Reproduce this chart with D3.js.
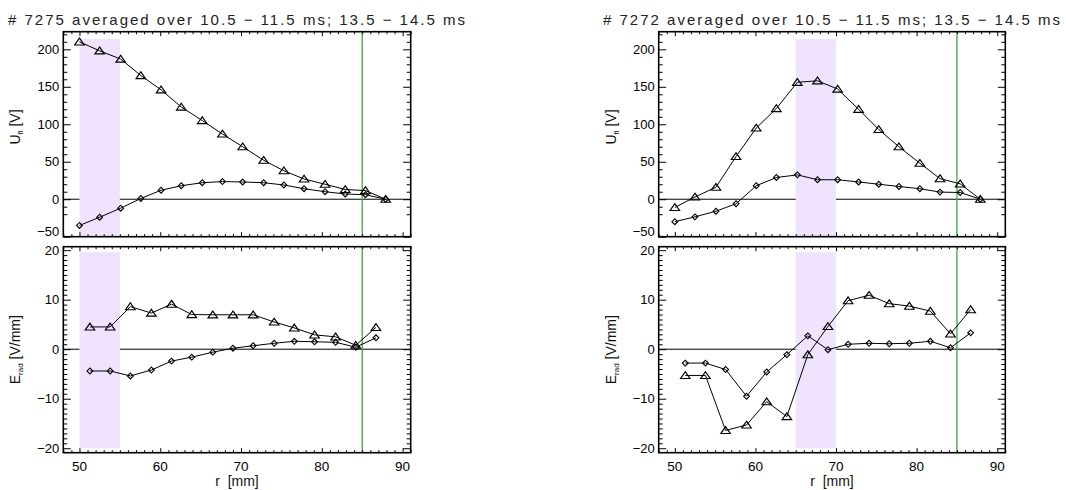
<!DOCTYPE html>
<html>
<head>
<meta charset="utf-8">
<script src="https://d3js.org/d3.v7.min.js"></script>
<style>
  body { margin: 0; background: #fff; }
  svg { display: block; }
  text { font-family: "Liberation Sans", Arial, sans-serif; }
</style>
</head>
<body>
<div id="chart"></div>
<script>
// ---- data ----
const shots = ["7275", "7272"];
const titleText = " averaged over 10.5 \u2212 11.5 ms; 13.5 \u2212 14.5 ms";

// probe positions (top panels) and midpoints (bottom panels), mm
const rU = [50.0, 52.5, 55.1, 57.6, 60.1, 62.6, 65.2, 67.7, 70.2, 72.8, 75.3, 77.8, 80.4, 82.9, 85.4, 87.9];
const rE = [51.3, 53.8, 56.3, 58.9, 61.4, 63.9, 66.5, 69.0, 71.5, 74.1, 76.6, 79.1, 81.7, 84.2, 86.7];

// shot 7275
const uTri7275 = [210, 198, 187, 165, 146, 123, 105, 87, 70, 52, 38, 27, 20, 13, 11.5, 0];
const uDia7275 = [-35, -24, -12, 1, 12, 18, 22, 23.5, 23, 22, 19, 14, 10, 7, 6, 0];
const eTri7275 = [4.5, 4.5, 8.6, 7.3, 9.1, 7.0, 6.95, 6.95, 6.95, 5.5, 4.3, 2.9, 2.5, 0.8, 4.4];
const eDia7275 = [-4.4, -4.4, -5.4, -4.2, -2.4, -1.6, -0.6, 0.2, 0.7, 1.2, 1.6, 1.5, 1.4, 0.4, 2.3];

// shot 7272
const uTri7272 = [-11, 3, 16, 57, 95, 121, 156, 158, 147, 120, 93, 70, 48, 27.5, 20.5, 0];
const uDia7272 = [-30, -23.5, -16, -6, 18, 29, 32.5, 26, 26, 23, 20, 17, 14, 9.5, 9, 0];
const eTri7272 = [-5.3, -5.3, -16.4, -15.3, -10.6, -13.6, -1.1, 4.6, 9.8, 10.9, 9.2, 8.7, 7.7, 3.1, 8.0];
const eDia7272 = [-2.8, -2.8, -4.1, -9.5, -4.6, -1.1, 2.7, -0.1, 1.0, 1.2, 1.1, 1.2, 1.6, 0.3, 3.3];

// shaded bands [r0, r1] and limiter line
const bands = [[50, 55], [65, 70]];
const limiterR = 85;

const xTicks = [50, 60, 70, 80, 90];
const uTicks = [-50, 0, 50, 100, 150, 200];
const eTicks = [-20, -10, 0, 10, 20];

// ---- layout ----
const width = 1066, height = 490;
const panelsX = [[63.3, 410.7], [658.7, 1005.3]];
const topY = [31.7, 236.7];
const botY = [246.7, 452.7];

const svg = d3.select("#chart").append("svg")
  .attr("width", width).attr("height", height);

const fmt = d => d < 0 ? "\u2212" + Math.abs(d) : String(d);

function drawPanel(x0, x1, y0, y1, yDomain, yTicks, yMinorStep, band, series, showX) {
  const x = d3.scaleLinear().domain([48, 91]).range([x0, x1]);
  const y = d3.scaleLinear().domain(yDomain).range([y1, y0]);
  const g = svg.append("g");

  // zero line (drawn under the band, like the original)
  g.append("line")
    .attr("x1", x0).attr("x2", x1)
    .attr("y1", y(0)).attr("y2", y(0))
    .attr("stroke", "#000").attr("stroke-width", 1);

  // shaded band
  const bandTop = yDomain[1] > 100 ? 214 : 19.6;
  const bandBot = yDomain[1] > 100 ? -50 : -20;
  g.append("rect")
    .attr("x", x(band[0])).attr("width", x(band[1]) - x(band[0]))
    .attr("y", y(bandTop)).attr("height", y(bandBot) - y(bandTop))
    .attr("fill", "#efe3fd");

  // green vertical line
  g.append("line")
    .attr("x1", x(limiterR)).attr("x2", x(limiterR))
    .attr("y1", y0).attr("y2", y1)
    .attr("stroke", "#3aaa3a").attr("stroke-width", 1.3);

  // data
  const line = d3.line().x(d => x(d[0])).y(d => y(d[1]));
  series.forEach(s => {
    const pts = s.r.map((r, i) => [r, s.v[i]]);
    g.append("path").datum(pts)
      .attr("d", line)
      .attr("fill", "none").attr("stroke", "#000").attr("stroke-width", 1);
    const tri = s.type === "tri";
    g.selectAll(null).data(pts).join("path")
      .attr("transform", d => tri
        ? `translate(${x(d[0])},${y(d[1]) + 0.8}) scale(1.15,0.95)`
        : `translate(${x(d[0])},${y(d[1])}) rotate(45)`)
      .attr("d", d3.symbol(tri ? d3.symbolTriangle : d3.symbolSquare, tri ? 30 : 17))
      .attr("fill", "none").attr("stroke", "#000").attr("stroke-width", 1.1);
  });

  // ticks on all four sides (inward)
  const pw = x1 - x0, ph = y1 - y0;
  const xMaj = 4.5, xMin = 2.5, yMaj = 7.5, yMin = 4;
  const xMinor = d3.range(48, 91.01, 1).filter(v => !xTicks.includes(v));
  const yMinor = d3.range(yDomain[0] < -20.5 ? -20 : -50, yDomain[1] + 0.01, yMinorStep)
    .filter(v => v >= yDomain[0] && v <= yDomain[1] && !yTicks.includes(v));

  const ax = (axis, tr) => g.append("g").attr("transform", tr).call(axis)
    .call(a => a.select(".domain").remove())
    .call(a => a.selectAll("line").attr("stroke", "#000").attr("stroke-width", 1));

  ax(d3.axisBottom(x).tickValues(xTicks).tickSize(-xMaj).tickFormat(""), `translate(0,${y1})`);
  ax(d3.axisBottom(x).tickValues(xMinor).tickSize(-xMin).tickFormat(""), `translate(0,${y1})`);
  ax(d3.axisTop(x).tickValues(xTicks).tickSize(-xMaj).tickFormat(""), `translate(0,${y0})`);
  ax(d3.axisTop(x).tickValues(xMinor).tickSize(-xMin).tickFormat(""), `translate(0,${y0})`);
  ax(d3.axisLeft(y).tickValues(yTicks).tickSize(-yMaj).tickFormat(""), `translate(${x0},0)`);
  ax(d3.axisLeft(y).tickValues(yMinor).tickSize(-yMin).tickFormat(""), `translate(${x0},0)`);
  ax(d3.axisRight(y).tickValues(yTicks).tickSize(-yMaj).tickFormat(""), `translate(${x1},0)`);
  ax(d3.axisRight(y).tickValues(yMinor).tickSize(-yMin).tickFormat(""), `translate(${x1},0)`);

  // y tick labels; the label at the panel bottom sits above its tick
  const lo = d3.min(yTicks), hi = d3.max(yTicks);
  g.selectAll(null).data(yTicks).join("text")
    .attr("x", x0 - 4)
    .attr("y", d => y(d) + (showX ? 4.6 : (d === lo ? -0.5 : 4.6)) + (showX && d === hi ? 0.6 : 0))
    .attr("text-anchor", "end").attr("font-size", 13)
    .text(fmt);

  if (showX) {
    g.selectAll(null).data(xTicks).join("text")
      .attr("x", d => x(d)).attr("y", y1 + 18)
      .attr("text-anchor", "middle").attr("font-size", 13.5)
      .text(fmt);
  }

  // frame
  g.append("rect")
    .attr("x", x0).attr("y", y0).attr("width", pw).attr("height", ph)
    .attr("fill", "none").attr("stroke", "#000").attr("stroke-width", 1.6);

  return {x, y};
}

function yTitle(cx, cy, main, sub, unit) {
  const t = svg.append("text")
    .attr("transform", `translate(${cx},${cy}) rotate(-90)`)
    .attr("text-anchor", "middle").attr("font-size", 14).attr("fill", "#111");
  t.append("tspan").text(main);
  t.append("tspan").attr("font-size", 8).attr("dy", 3).text(sub);
  t.append("tspan").attr("dy", -3).text("\u00a0" + unit);
}

const allData = [
  {uTri: uTri7275, uDia: uDia7275, eTri: eTri7275, eDia: eDia7275},
  {uTri: uTri7272, uDia: uDia7272, eTri: eTri7272, eDia: eDia7272}
];

panelsX.forEach(([x0, x1], k) => {
  const d = allData[k];
  drawPanel(x0, x1, topY[0], topY[1], [-50, 223.5], uTicks, 10, bands[k], [
    {r: rU, v: d.uTri, type: "tri"},
    {r: rU, v: d.uDia, type: "dia"}
  ], false);
  drawPanel(x0, x1, botY[0], botY[1], [-20.9, 20.7], eTicks, 1, bands[k], [
    {r: rE, v: d.eTri, type: "tri"},
    {r: rE, v: d.eDia, type: "dia"}
  ], true);

  yTitle(x0 - 43, 127, "U", "fl", "[V]");
  yTitle(x0 - 43, (botY[0] + botY[1]) / 2, "E", "rad", "[V/mm]");

  svg.append("text")
    .attr("x", (x0 + x1) / 2).attr("y", 486)
    .attr("text-anchor", "middle").attr("font-size", 14).attr("fill", "#111")
    .attr("xml:space", "preserve")
    .text("r  [mm]");
});

// titles
[8, 603].forEach((tx, k) => {
  svg.append("text")
    .attr("x", tx).attr("y", 25)
    .attr("font-size", 15).attr("fill", "#222")
    .attr("textLength", 457).attr("lengthAdjust", "spacing")
    .text("# " + shots[k] + titleText);
});
</script>
</body>
</html>
